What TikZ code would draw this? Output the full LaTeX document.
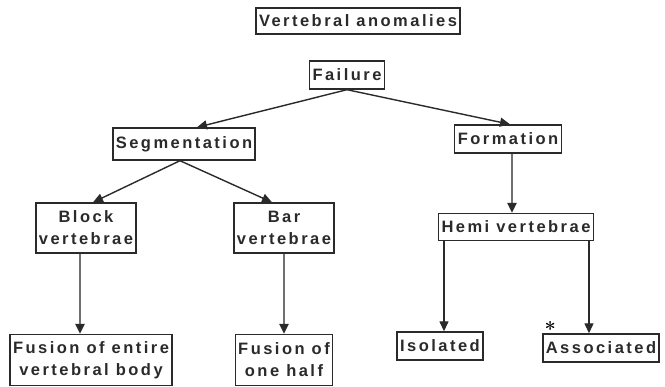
\documentclass[tikz,border=0pt]{standalone}
\usepackage{fontspec}
\newfontfamily\boxfont{Liberation Sans}[LetterSpace=15]
\usetikzlibrary{positioning, arrows.meta}
\definecolor{inkgray}{HTML}{2A2A2A}
\definecolor{stemgray}{HTML}{707070}
\tikzstyle{box} = [rectangle, draw=inkgray, line width=1.4pt, text=inkgray, inner xsep=3pt, inner ysep=2pt, minimum height=28pt, align=center, font=\boxfont\bfseries\fontsize{16.5}{22}\selectfont]
\tikzstyle{tallbox} = [box, minimum height=50pt]
\tikzstyle{arrow} = [draw=inkgray, line width=1.4pt, -{Triangle[length=10pt,width=9pt]}]
\tikzstyle{stem} = [draw=stemgray, line width=2.8pt, -{Triangle[length=10pt,width=9pt,color=inkgray]}]

\begin{document}
\begin{tikzpicture}[x=1pt, y=1pt, node distance=84pt]
\useasboundingbox (0,0) rectangle (665,-387);

%Nodes
\node (title) [box, minimum height=26pt] at (358,-21) {Vertebral anomalies};
\node (failure) [box, below of=title, xshift=-11pt, yshift=30pt] {Failure};
\node (segm) [box, minimum height=32pt, below of=failure, xshift=-163pt, yshift=15pt] {Segmentation};
\node (formation) [box, below of=failure, xshift=161pt, yshift=20pt] {Formation};
\node (block) [tallbox, below of=segm, xshift=-98pt] {Block\\vertebrae};
\node (bar) [tallbox, below of=segm, xshift=100pt] {Bar\\vertebrae};
\node (hemi) [box, minimum height=27pt, below of=formation, xshift=8pt, yshift=-4pt] {Hemi vertebrae};
\node (fusentire) [tallbox, minimum height=51pt, below of=block, xshift=5pt, yshift=-48pt] {Fusion of entire\\vertebral body};
\node (fushalf) [tallbox, minimum height=51pt, below of=bar, yshift=-48pt] {Fusion of\\one half};
\node (isolated) [box, below of=hemi, xshift=-76pt, yshift=-35pt] {Isolated};
\node (associated) [box, below of=hemi, xshift=85pt, yshift=-37pt] {Associated};
\node (star) [font=\bfseries\fontsize{20}{20}\selectfont, inner sep=0pt] at ([xshift=8pt,yshift=4pt]associated.north west) {*};

%Arrows
\draw [arrow] (failure.south) -- ([xshift=13pt]segm.north);
\draw [arrow] (failure.south) -- ([xshift=2pt]formation.north);
\draw [arrow] ([xshift=-4pt]segm.south) -- ([xshift=7pt]block.north);
\draw [arrow] ([xshift=-4pt]segm.south) -- ([xshift=-12pt]bar.north);
\draw [stem] ([xshift=-6pt]block.south) -- ([xshift=-6pt]block.south |- fusentire.north);
\draw [stem] (bar.south) -- (fushalf.north);
\draw [stem] ([xshift=4pt]formation.south) -- ([xshift=4pt]formation.south |- hemi.north);
\draw [arrow] ([xshift=4pt]isolated.north |- hemi.south) -- ([xshift=4pt]isolated.north);
\draw [arrow] ([xshift=-12pt]associated.north |- hemi.south) -- ([xshift=-12pt]associated.north);

\end{tikzpicture}
\end{document}
